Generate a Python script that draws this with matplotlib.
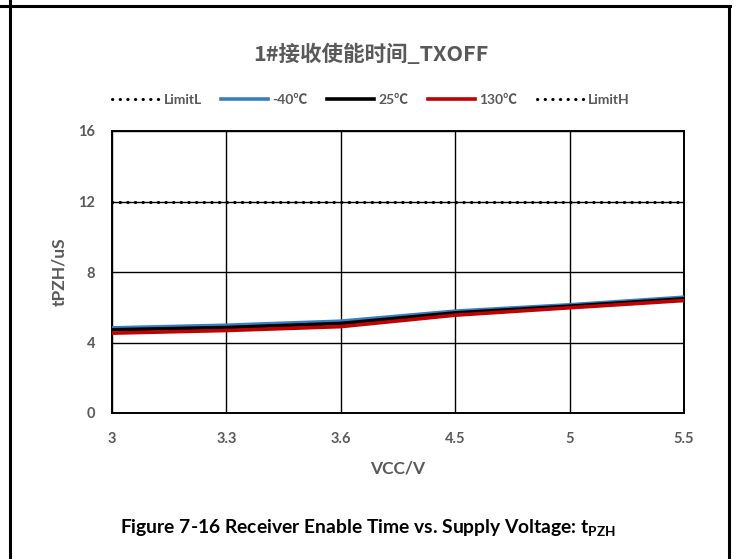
import numpy as np
import matplotlib.pyplot as plt
from matplotlib.lines import Line2D

plt.rcParams['font.family'] = ['Lato', 'Noto Sans CJK SC', 'DejaVu Sans']
plt.rcParams['mathtext.fontset'] = 'custom'
plt.rcParams['mathtext.bf'] = 'Lato:bold'
plt.rcParams['mathtext.rm'] = 'Lato'

# data
vcc = ['3', '3.3', '3.6', '4.5', '5', '5.5']
t_m40 = [4.83, 4.98, 5.21, 5.78, 6.14, 6.57]
t_25 = [4.72, 4.85, 5.08, 5.68, 6.06, 6.48]
t_130 = [4.53, 4.68, 4.90, 5.55, 5.97, 6.38]
limit_l = [np.nan] * 6   # not visible on the chart
limit_h = [12, 12, 12, 12, 12, 12]
y_ticks = [0, 4, 8, 12, 16]

grey = '#595959'
W, H = 736, 559
fig = plt.figure(figsize=(W / 100, H / 100), dpi=100)
ax = fig.add_axes([112 / W, 1 - 413 / H, 572 / W, 282 / H])

x = np.arange(len(vcc))
dot = (0, (0.1, 2.4))
ax.plot(x, limit_l, color='black', lw=2.2, ls=dot, dash_capstyle='round', label='LimitL')
ax.plot(x, t_m40, color='#3B7DC1', lw=2.6, label='-40℃', zorder=3)
ax.plot(x, t_25, color='black', lw=2.6, label='25℃', zorder=4)
ax.plot(x, t_130, color='#C00000', lw=2.6, label='130℃', zorder=5)
ax.plot(x, limit_h, color='black', lw=2.2, ls=dot, dash_capstyle='round', label='LimitH', zorder=6)

ax.set_xlim(0, len(vcc) - 1)
ax.set_ylim(0, 16)
ax.set_xticks(x)
ax.set_xticklabels(vcc)
ax.set_yticks(y_ticks)
ax.grid(True, color='black', lw=1.0)
ax.set_axisbelow(True)
for s in ax.spines.values():
    s.set_linewidth(1.4)
ax.tick_params(length=0, labelsize=10.5, labelcolor=grey)
ax.tick_params(axis='x', pad=14)
ax.tick_params(axis='y', pad=12)
for lab in ax.get_xticklabels() + ax.get_yticklabels():
    lab.set_fontweight('bold')

ax.set_xlabel('VCC/V', fontsize=12.5, fontweight='bold', color=grey, labelpad=10)
ax.set_ylabel('tPZH/uS', fontsize=12.5, fontweight='bold', color=grey, labelpad=8)

fig.text(371 / W, 1 - 54 / H, '1#接收使能时间_TXOFF', ha='center', va='center',
         fontsize=15.5, fontweight='bold', color=grey,
         family=['Noto Sans CJK SC', 'DejaVu Sans'])

leg = ax.legend(loc='center', bbox_to_anchor=(371 / W, 1 - 100 / H),
                bbox_transform=fig.transFigure, ncol=5, frameon=False,
                fontsize=10, handlelength=3.4, columnspacing=1.4, handletextpad=0.3)
for t in leg.get_texts():
    t.set_color(grey)
    t.set_fontweight('bold')

fig.text(368 / W, 1 - 528 / H,
         r'Figure 7-16 Receiver Enable Time vs. Supply Voltage: $\mathbf{t_{PZH}}$',
         ha='center', va='center', fontsize=13.9, fontweight='bold', color='black')

# outer frame
fig.add_artist(Line2D([9.5 / W, 9.5 / W], [0, 1], transform=fig.transFigure, color='black', lw=2.2))
fig.add_artist(Line2D([0, 730 / W], [1 - 5.5 / H, 1 - 5.5 / H], transform=fig.transFigure, color='black', lw=2.2))
fig.add_artist(Line2D([729 / W, 729 / W], [0, 1 - 5.5 / H], transform=fig.transFigure, color='black', lw=2.2))

fig.savefig('out.png', dpi=100)
